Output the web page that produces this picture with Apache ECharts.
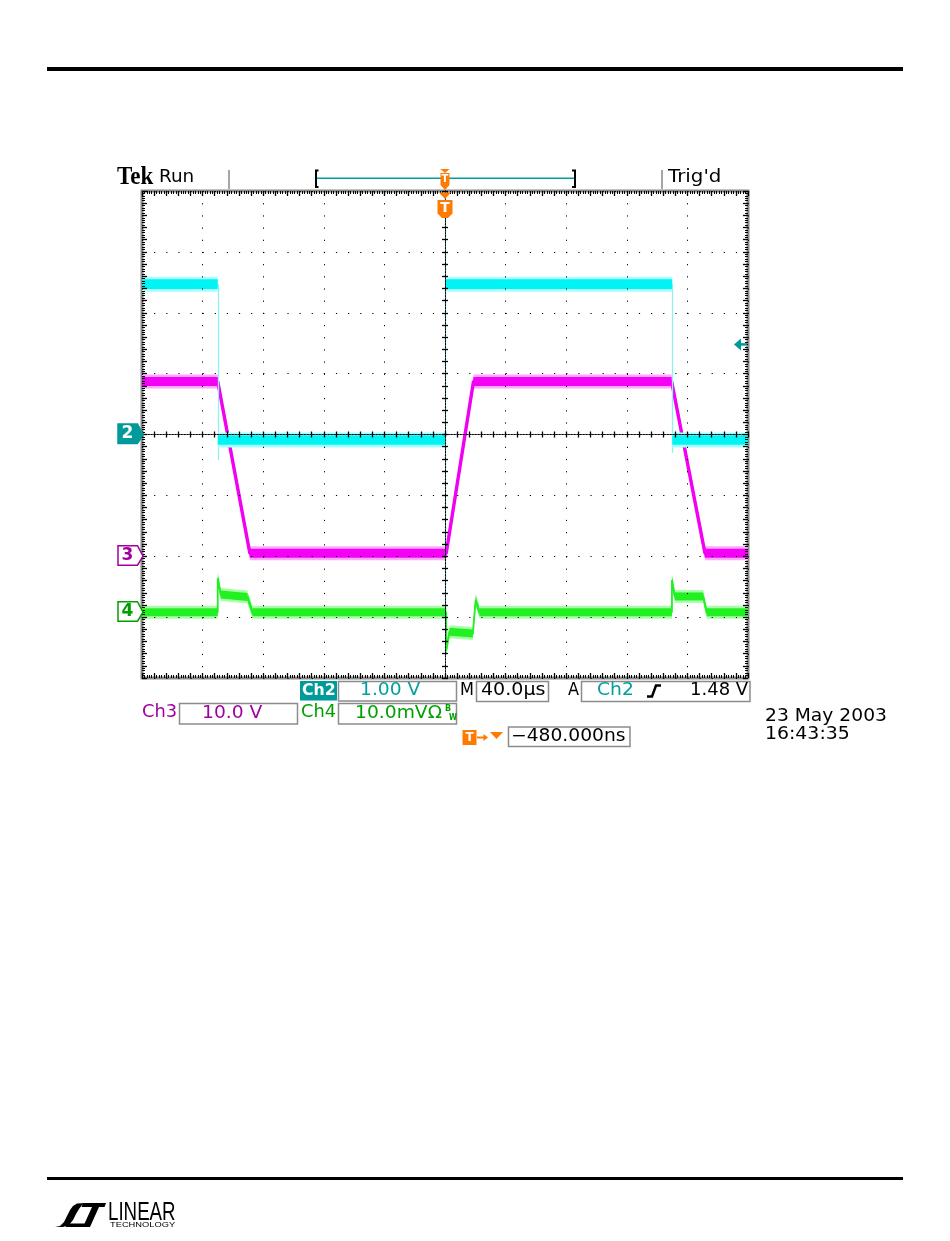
<!DOCTYPE html>
<html><head><meta charset="utf-8">
<script src="https://cdn.jsdelivr.net/npm/echarts@6/dist/echarts.min.js"></script>
<style>html,body{margin:0;padding:0;background:#fff}#c{width:950px;height:1241px}</style>
</head><body><div id="c"></div>
<script>
// ---- horizontal: time (µs), M 40.0µs/div, trigger at centre ----
const timeMin = -200, timeMax = 200, timePerDiv = 40;
// ---- vertical graticule in divisions ----
const divMin = -4, divMax = 4;

// ---- Ch2 : 1.00 V/div, ground at centre (marker "2") ----
const ch2VoltsPerDiv = 1, ch2Position = 0;
const ch2Time  = [-200, -150, -150, 0, 0, 150, 150, 200];
const ch2Volts = [2.47, 2.47, -0.09, -0.09, 2.47, 2.47, -0.09, -0.09];
// faint fast-edge traces of Ch2
const ch2EdgeTime = [-150, 150];
const ch2EdgeTop  = [2.47, 2.47];
const ch2EdgeLow  = [-0.42, -0.30];
const ch2TrigEdgeTime = [0];
const ch2TrigEdgeTop  = [3.55];
const ch2TrigEdgeLow  = [-3.62];
const triggerLevel = 1.48;

// ---- Ch3 : 10.0 V/div, ground 2 div below centre (marker "3") ----
const ch3VoltsPerDiv = 10, ch3Position = -2;
const ch3Time  = [-200, -150, -128.8, 0.8, 18.8, 149.6, 171.6, 200];
const ch3Volts = [28.7, 28.7, 0.5, 0.5, 28.7, 28.7, 0.5, 0.5];

// ---- Ch4 : 10.0 mV/div (marker "4") ----
const ch4MilliVoltsPerDiv = 10, ch4Position = -2.92;
const ch4Time = [-200, -150, -150, -148, -130.4, -127.1, 0.8, 0.8, 3.0, 18.4, 20.2, 22.8, 149.8, 149.8, 151.7, 170.4, 172.7, 200];
const ch4MilliVolts = [0, 0, 5.6, 2.9, 2.5, 0, 0, -6.2, -3.2, -3.5, 2.0, 0, 0, 5.3, 2.6, 2.6, 0, 0];

const toDiv = (v, perDiv, pos) => v / perDiv + pos;
const ch2Div = ch2Volts.map(v => toDiv(v, ch2VoltsPerDiv, ch2Position));
const ch3Div = ch3Volts.map(v => toDiv(v, ch3VoltsPerDiv, ch3Position));
const ch4Div = ch4MilliVolts.map(v => toDiv(v, ch4MilliVoltsPerDiv, ch4Position));

function segs(times, divs) {
  const out = [];
  for (let i = 0; i < times.length - 1; i++) out.push([times[i], divs[i], times[i + 1], divs[i + 1]]);
  return out;
}
function band(times, divs, h, fill, z) {
  return {
    type: 'custom', xAxisIndex: 0, yAxisIndex: 0, silent: true, z: z,
    data: segs(times, divs), encode: { x: [0, 2], y: [1, 3] },
    renderItem: function (params, api) {
      const a = api.coord([api.value(0), api.value(1)]);
      const b = api.coord([api.value(2), api.value(3)]);
      return { type: 'polygon', shape: { points: [[a[0], a[1] - h], [b[0], b[1] - h], [b[0], b[1] + h], [a[0], a[1] + h]] }, style: { fill: fill } };
    }
  };
}
function trace(times, divs, color, width, z) {
  return { type: 'line', xAxisIndex: 0, yAxisIndex: 0, silent: true, z: z, showSymbol: false, symbol: 'none',
    data: times.map((t, i) => [t, divs[i]]), lineStyle: { color: color, width: width } };
}
function edges(times, tops, lows, perDiv, pos, color, width, type, z) {
  return { type: 'lines', coordinateSystem: 'cartesian2d', xAxisIndex: 0, yAxisIndex: 0, silent: true, z: z,
    data: times.map((t, i) => ({ coords: [[t, toDiv(tops[i], perDiv, pos)], [t, toDiv(lows[i], perDiv, pos)]] })),
    lineStyle: { color: color, width: width, type: type, opacity: 1 } };
}

const dotX = [1.2, 10.92], dotY = [1.2, 10.98];
const baseAxis = { type: 'value', axisLabel: { show: false }, splitLine: { show: false }, z: 20 };
const blk = { color: '#000', width: 1.3 };

const chart = echarts.init(document.getElementById('c'), null, { renderer: 'canvas', width: 950, height: 1241 });
chart.setOption({
  animation: false,
  backgroundColor: '#fff',
  grid: { left: 142, top: 191, width: 606, height: 487, show: true, borderColor: '#8a8a8a', borderWidth: 3, backgroundColor: '#fff' },
  xAxis: [
    Object.assign({}, baseAxis, { min: timeMin, max: timeMax, interval: timePerDiv, axisLine: { show: false, onZero: false }, axisTick: { show: false },
      splitLine: { show: true, lineStyle: { color: '#000', width: 1, type: dotY } } }),
    Object.assign({}, baseAxis, { min: timeMin, max: timeMax, interval: timePerDiv / 5,
      axisLine: { show: true, onZero: true, onZeroAxisIndex: 0, lineStyle: { color: '#000', width: 1, type: [1.2, 1.8] } },
      axisTick: { show: true, inside: true, length: 3, lineStyle: blk } }),
    Object.assign({}, baseAxis, { min: timeMin, max: timeMax, interval: timePerDiv / 5,
      axisLine: { show: true, onZero: true, onZeroAxisIndex: 0, lineStyle: { color: '#000', width: 1, type: [1.2, 1.8] } },
      axisTick: { show: true, inside: false, length: 3, lineStyle: blk } }),
    Object.assign({}, baseAxis, { position: 'bottom', min: timeMin, max: timeMax, interval: timePerDiv / 5,
      axisLine: { show: false, onZero: false }, axisTick: { show: true, inside: true, length: 5, lineStyle: blk },
      minorTick: { show: true, splitNumber: 5, length: 3, lineStyle: { color: '#000', width: 1 } } }),
    Object.assign({}, baseAxis, { position: 'top', min: timeMin, max: timeMax, interval: timePerDiv / 5,
      axisLine: { show: false, onZero: false }, axisTick: { show: true, inside: true, length: 5, lineStyle: blk },
      minorTick: { show: true, splitNumber: 5, length: 3, lineStyle: { color: '#000', width: 1 } } })
  ],
  yAxis: [
    Object.assign({}, baseAxis, { min: divMin, max: divMax, interval: 1, axisLine: { show: false, onZero: false }, axisTick: { show: false },
      splitLine: { show: true, lineStyle: { color: '#000', width: 1, type: dotX } } }),
    Object.assign({}, baseAxis, { position: 'left', min: divMin, max: divMax, interval: 0.2,
      axisLine: { show: true, onZero: true, onZeroAxisIndex: 0, lineStyle: { color: '#000', width: 1, type: [1.2, 1.8] } },
      axisTick: { show: true, inside: true, length: 3, lineStyle: blk } }),
    Object.assign({}, baseAxis, { position: 'left', min: divMin, max: divMax, interval: 0.2,
      axisLine: { show: true, onZero: true, onZeroAxisIndex: 0, lineStyle: { color: '#000', width: 1, type: [1.2, 1.8] } },
      axisTick: { show: true, inside: false, length: 3, lineStyle: blk } }),
    Object.assign({}, baseAxis, { position: 'left', min: divMin, max: divMax, interval: 0.2,
      axisLine: { show: false, onZero: false }, axisTick: { show: true, inside: true, length: 5, lineStyle: blk },
      minorTick: { show: true, splitNumber: 5, length: 3, lineStyle: { color: '#000', width: 1 } } }),
    Object.assign({}, baseAxis, { position: 'right', min: divMin, max: divMax, interval: 0.2,
      axisLine: { show: false, onZero: false }, axisTick: { show: true, inside: true, length: 5, lineStyle: blk },
      minorTick: { show: true, splitNumber: 5, length: 3, lineStyle: { color: '#000', width: 1 } } })
  ],
  series: [
    band(ch4Time, ch4Div, 6.5, '#a8ffa8', 2),
    trace(ch4Time, ch4Div, '#22ee22', 1.8, 3),
    band(ch4Time, ch4Div, 4, '#22f022', 4),
    band(ch3Time, ch3Div, 7, '#ffa8ff', 5),
    trace(ch3Time, ch3Div, '#f000f0', 3.4, 6),
    band(ch3Time, ch3Div, 4.5, '#f400f4', 7),
    edges(ch2TrigEdgeTime, ch2TrigEdgeTop, ch2TrigEdgeLow, ch2VoltsPerDiv, ch2Position, '#30e0e0', 1.3, [2, 2], 8),
    edges(ch2EdgeTime, ch2EdgeTop, ch2EdgeLow, ch2VoltsPerDiv, ch2Position, '#90f0f0', 1.3, 'solid', 8),
    band(ch2Time, ch2Div, 7.5, '#a8ffff', 9),
    band(ch2Time, ch2Div, 4.8, '#00f4f4', 10)
  ]
});

// ---------- annotations ----------
const px = (t, d) => chart.convertToPixel({ xAxisIndex: 0, yAxisIndex: 0 }, [t, d]);
const FONT = '"DejaVu Sans"';
function T(x, y, text, color, size, o) {
  o = o || {};
  return { type: 'text', x: x, y: y, scaleX: o.sx || 1, z: 50,
    style: { text: text, fill: color, font: (o.bold ? 'bold ' : '') + size + 'px ' + (o.family || FONT), align: o.align || 'left', verticalAlign: 'middle' } };
}
function L(pts, color, w) {
  return { type: 'polyline', z: 50, shape: { points: pts }, style: { stroke: color, lineWidth: w, fill: null } };
}
function P(pts, fill, o) {
  o = o || {};
  return { type: 'polygon', z: o.z || 50, shape: { points: pts, smooth: o.smooth || 0 }, style: { fill: fill, stroke: o.stroke || null, lineWidth: o.lw || 0 } };
}
function R(x, y, w, h, o) {
  return { type: 'rect', z: 50, shape: { x: x, y: y, width: w, height: h }, style: { fill: o.fill || null, stroke: o.stroke || null, lineWidth: o.lw || 0 } };
}
const ORANGE = '#ff7a00', TEAL = '#009a9a', TEALTXT = '#00a0a0', MAG = '#a000a0', GRN = '#00a000', BOX = '#8c8c8c';

const g = [];
// page rules
g.push(R(47, 67, 856, 4, { fill: '#000' }));
g.push(R(47, 1177, 856, 3, { fill: '#000' }));

// header
g.push(T(117, 178, 'Tek', '#000', 25, { bold: true, family: '"Liberation Serif"', sx: 0.92 }));
g.push(T(159, 178, 'Run', '#000', 17, { sx: 1.08 }));
g.push(L([[229, 170], [229, 189]], '#888', 1.5));
g.push(L([[318.5, 170.5], [316, 170.5], [316, 187], [318.5, 187]], '#000', 2));
g.push(L([[317, 178.3], [574, 178.3]], TEALTXT, 1.5));
g.push(L([[572, 170.5], [575, 170.5], [575, 187], [572, 187]], '#000', 2));
const trigX = px(0, 0)[0];
g.push(P([[trigX - 4.5, 169], [trigX + 4.5, 169], [trigX, 173]], ORANGE));
g.push(R(trigX - 4.5, 173, 9, 12, { fill: ORANGE }));
g.push(T(trigX, 179, 'T', '#fff', 10, { bold: true, align: 'center' }));
g.push(P([[trigX - 4.5, 185], [trigX + 4.5, 185], [trigX, 190]], ORANGE));
g.push(L([[662, 170], [662, 189]], '#888', 1.5));
g.push(T(668, 177.5, "Trig'd", '#000', 18, { sx: 1.1 }));
// big trigger-position marker
g.push(P([[trigX - 6, 192.5], [trigX + 6, 192.5], [trigX, 199]], ORANGE));
g.push(P([[trigX - 7.5, 200], [trigX + 7.5, 200], [trigX + 7.5, 213.5], [trigX + 3, 218], [trigX - 3, 218], [trigX - 7.5, 213.5]], ORANGE));
g.push(T(trigX, 208.5, 'T', '#fff', 14, { bold: true, align: 'center' }));

// channel ground markers
function marker(cy, label, color, filled) {
  const pts = [[118, cy - 10.5], [137.5, cy - 10.5], [143, cy], [137.5, cy + 9], [118, cy + 9]];
  g.push(P(pts, filled ? color : '#fff', { stroke: color, lw: 1.5, z: 60 }));
  const t = T(127.5, cy - 0.8, label, filled ? '#fff' : color, 17, { bold: true, align: 'center' });
  t.z = 61; g.push(t);
}
marker(px(0, ch2Position)[1], '2', TEAL, true);
marker(px(0, ch3Position)[1], '3', MAG, false);
marker(px(0, ch4Position)[1], '4', GRN, false);

// trigger level arrow (right edge)
const ty = px(0, toDiv(triggerLevel, ch2VoltsPerDiv, ch2Position))[1];
g.push(P([[734, ty], [741, ty - 6], [741, ty + 6]], TEAL));
g.push(L([[740, ty], [747, ty]], TEAL, 2.5));

// readouts row 1
g.push(R(300, 681, 37, 19.5, { fill: TEAL }));
g.push(T(302, 690.5, 'Ch2', '#fff', 16, { bold: true, sx: 0.98 }));
g.push(R(338.5, 681.5, 118, 19.5, { stroke: BOX, lw: 1.5 }));
g.push(T(360, 690.5, '1.00 V', TEALTXT, 17, { sx: 1.1 }));
g.push(T(460, 690.5, 'M', '#000', 17, { sx: 0.95 }));
g.push(R(476.5, 681.5, 72, 20, { stroke: BOX, lw: 1.5 }));
g.push(T(481, 691, '40.0µs', '#000', 17, { sx: 1.12 }));
g.push(T(568, 691, 'A', '#000', 17, { sx: 0.95 }));
g.push(R(581.5, 681.5, 168.5, 20, { stroke: BOX, lw: 1.5 }));
g.push(T(597, 691, 'Ch2', TEALTXT, 17, { sx: 1.1 }));
g.push(L([[647, 696.5], [652, 696.5], [656, 685.5], [661, 685.5]], '#000', 2.5));
g.push(T(690, 691, '1.48 V', '#000', 17, { sx: 1.06 }));
// row 2
g.push(T(142, 713, 'Ch3', MAG, 17, { sx: 1.05 }));
g.push(R(179.5, 703.5, 118, 20.5, { stroke: BOX, lw: 1.5 }));
g.push(T(202, 713.5, '10.0 V', MAG, 17, { sx: 1.1 }));
g.push(T(301, 713, 'Ch4', GRN, 17, { sx: 1.05 }));
g.push(R(338.5, 703.5, 118, 20.5, { stroke: BOX, lw: 1.5 }));
g.push(T(355, 713.5, '10.0mVΩ', GRN, 17, { sx: 1.1 }));
g.push(T(445, 709, 'B', GRN, 8, { bold: true }));
g.push(T(449, 717.5, 'W', GRN, 8, { bold: true, sx: 0.9 }));
// row 3
g.push(R(462.5, 730, 14, 15, { fill: ORANGE }));
g.push(T(469.5, 737.5, 'T', '#fff', 12, { bold: true, align: 'center' }));
g.push(L([[477, 737.5], [485, 737.5]], ORANGE, 2));
g.push(P([[488, 737.5], [483.5, 734], [483.5, 741]], ORANGE));
g.push(P([[490, 732], [503, 732], [496.5, 739]], ORANGE));
g.push(R(508.5, 727, 121.5, 19.5, { stroke: BOX, lw: 1.5 }));
g.push(T(511, 737, '−480.000ns', '#000', 17, { sx: 1.1 }));
g.push(T(765, 717, '23 May 2003', '#000', 17, { sx: 1.1 }));
g.push(T(765, 734.5, '16:43:35', '#000', 17, { sx: 1.11 }));

// logo
g.push(P([[55, 1227], [60, 1226], [64, 1222], [67, 1216], [70, 1210], [73, 1206], [77, 1203.5], [86, 1203], [82, 1205], [79, 1209], [76, 1214], [73, 1220], [69, 1225], [63, 1227]], '#000'));
g.push(P([[67, 1223.5], [89, 1223.5], [87.5, 1227], [65.5, 1227]], '#000'));
g.push(P([[83, 1203], [106, 1203], [104.5, 1207], [81.5, 1207]], '#000'));
g.push(P([[92, 1207], [99, 1207], [90, 1227], [83, 1227]], '#000'));
g.push(T(108, 1212.5, 'LINEAR', '#000', 26, { family: '"Liberation Sans"', sx: 0.72 }));
g.push(T(110, 1225.5, 'TECHNOLOGY', '#000', 7, { family: '"Liberation Sans"', sx: 1.33 }));

chart.setOption({ graphic: { elements: g } });
</script>
</body></html>
